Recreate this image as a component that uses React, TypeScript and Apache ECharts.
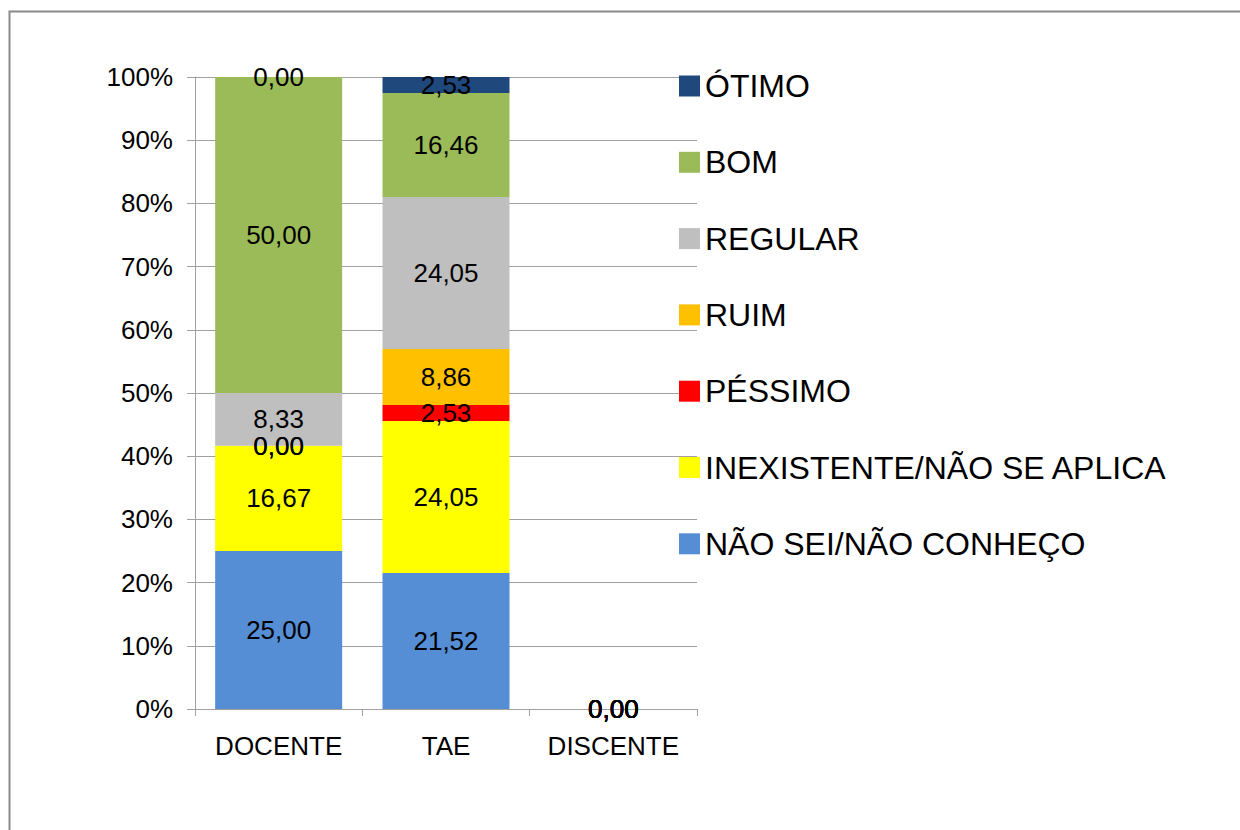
import React, { useEffect, useRef } from "react";
import * as echarts from "echarts";

const categories = ["DOCENTE", "TAE", "DISCENTE"];
const naoSei = [25.0, 21.52, 0];
const inexistente = [16.67, 24.05, 0];
const pessimo = [0, 2.53, 0];
const ruim = [0, 8.86, 0];
const regular = [8.33, 24.05, 0];
const bom = [50.0, 16.46, 0];
const otimo = [0, 2.53, 0];
const yTicks = [0, 10, 20, 30, 40, 50, 60, 70, 80, 90, 100];

const FONT = '"Liberation Sans", Arial, sans-serif';

const seriesDefs = [
  { name: "NÃO SEI/NÃO CONHEÇO", data: naoSei, color: "#558ED5" },
  { name: "INEXISTENTE/NÃO SE APLICA", data: inexistente, color: "#FFFF00" },
  { name: "PÉSSIMO", data: pessimo, color: "#FF0000" },
  { name: "RUIM", data: ruim, color: "#FFC000" },
  { name: "REGULAR", data: regular, color: "#BFBFBF" },
  { name: "BOM", data: bom, color: "#9BBB59" },
  { name: "ÓTIMO", data: otimo, color: "#1F497D" },
];

export default function App() {
  const ref = useRef<HTMLDivElement>(null);
  useEffect(() => {
    document.body.style.margin = "0";
    document.body.style.overflow = "hidden";
    const chart = echarts.init(ref.current!, null, { renderer: "svg" });
    chart.setOption({
      animation: false,
      backgroundColor: "#ffffff",
      textStyle: { fontFamily: FONT },
      graphic: [
        {
          type: "rect",
          shape: { x: 9.5, y: 11.5, width: 1400, height: 1000 },
          style: { fill: "none", stroke: "#8a8a8a", lineWidth: 2 },
          silent: true,
        },
      ],
      legend: {
        orient: "vertical",
        left: 674,
        top: 65,
        padding: 5,
        itemWidth: 21,
        itemHeight: 21,
        itemGap: 44.3,
        icon: "rect",
        data: seriesDefs.map((s) => s.name).reverse(),
        textStyle: { fontSize: 32, color: "#000", fontFamily: FONT, lineHeight: 32 },
      },
      grid: { left: 195, right: 543, top: 77, bottom: 121, containLabel: false },
      xAxis: {
        type: "category",
        data: categories,
        axisLine: { show: true, lineStyle: { color: "#a0a0a0", width: 1 } },
        axisTick: { show: true, length: 7, lineStyle: { color: "#a0a0a0" } },
        axisLabel: { fontSize: 26, color: "#000", margin: 24, interval: 0, fontFamily: FONT },
      },
      yAxis: {
        type: "value",
        min: yTicks[0],
        max: yTicks[yTicks.length - 1],
        interval: 10,
        axisLine: { show: true, lineStyle: { color: "#a0a0a0", width: 1 } },
        axisTick: { show: true, length: 8, lineStyle: { color: "#a0a0a0" } },
        splitLine: { show: true, lineStyle: { color: "#a0a0a0", width: 1 } },
        axisLabel: {
          fontSize: 26,
          color: "#000",
          margin: 22,
          fontFamily: FONT,
          formatter: (v: number) => `${v}%`,
        },
      },
      series: seriesDefs.map((s) => ({
        name: s.name,
        type: "bar",
        stack: "total",
        barWidth: 127,
        data: s.data,
        itemStyle: { color: s.color },
        label: {
          show: true,
          position: "inside",
          color: "#000",
          fontSize: 26,
          fontFamily: FONT,
          formatter: (p: any) => Number(p.value).toFixed(2).replace(".", ","),
        },
        labelLayout: { hideOverlap: false },
      })),
    });
    return () => chart.dispose();
  }, []);
  return <div ref={ref} style={{ width: 1240, height: 830 }} />;
}
